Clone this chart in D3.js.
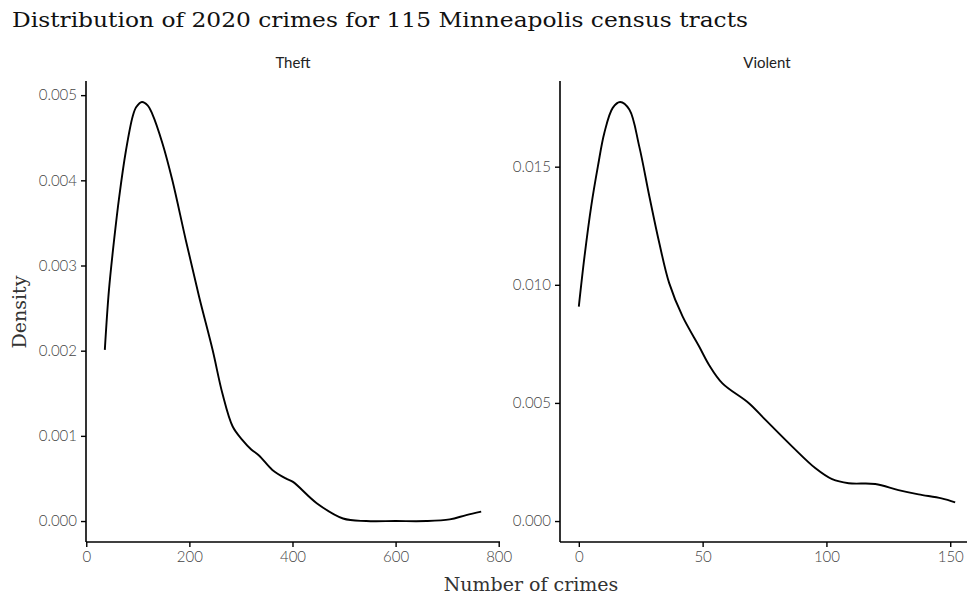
<!DOCTYPE html>
<html>
<head>
<meta charset="utf-8">
<script src="https://cdn.jsdelivr.net/npm/d3@7"></script>
<style>
  html, body { margin: 0; padding: 0; background: #fff; }
  svg { display: block; }
  .tick text { font-family: Lato, "Open Sans", sans-serif; font-weight: 300; fill: #444; font-size: 15px; }
  .strip { font-family: Lato, "Open Sans", sans-serif; font-weight: 400; fill: #222; font-size: 15px; }
  .title { font-family: "DejaVu Serif", serif; fill: #111; }
  .axis-title { font-family: "DejaVu Serif", serif; fill: #333; }
</style>
</head>
<body>
<svg id="chart" width="967" height="596"></svg>
<script>
// Kernel density estimates of 2020 crime counts per census tract
const panels = ["Theft", "Violent"];

const theftX = [36, 44, 54, 64, 77, 90, 97, 108, 119, 128, 148, 167, 193, 219, 245, 264, 284, 303, 320, 335, 361, 387, 401, 447, 498, 543, 600, 660, 705, 737, 766];
const theftD = [0.00201, 0.00271, 0.0033, 0.00381, 0.00435, 0.00475, 0.00486, 0.00492, 0.00488, 0.00478, 0.00443, 0.0040, 0.0033, 0.00263, 0.00201, 0.0015, 0.00111, 0.00095, 0.00084, 0.00077, 0.0006, 0.0005, 0.00046, 0.00021, 0.00003, 0.0, 0.0, 0.0, 0.00002, 0.00007, 0.00011];

const violentX = [0, 2.3, 5, 7.7, 10.3, 13.7, 16.7, 20.4, 24.4, 28.5, 32.5, 36.5, 41.9, 48.6, 52.6, 58, 68.7, 75.4, 86.2, 95.6, 102.3, 109, 119.7, 129.1, 137.2, 146.5, 152];
const violentD = [0.00908, 0.0112, 0.01332, 0.01501, 0.01643, 0.01749, 0.01774, 0.01742, 0.01586, 0.01374, 0.01177, 0.01007, 0.00866, 0.00739, 0.00661, 0.00583, 0.00499, 0.00428, 0.00315, 0.00223, 0.00177, 0.0016, 0.00157, 0.00131, 0.00113, 0.00096, 0.00079];

const theftXTicks = [0, 200, 400, 600, 800];
const theftYTicks = [0, 0.001, 0.002, 0.003, 0.004, 0.005];
const violentXTicks = [0, 50, 100, 150];
const violentYTicks = [0, 0.005, 0.010, 0.015];

const titleText = "Distribution of 2020 crimes for 115 Minneapolis census tracts";
const xTitle = "Number of crimes";
const yTitle = "Density";

const svg = d3.select("#chart");

// ggplot-style 5% expansion on each side of the data range
function expand(lo, hi) {
  const pad = (hi - lo) * 0.05;
  return [lo - pad, hi + pad];
}

const panelTop = 81, panelBottom = 542;
const layouts = [
  { name: panels[0], xs: theftX, ys: theftD, xTicks: theftXTicks, yTicks: theftYTicks, left: 86, right: 500 },
  { name: panels[1], xs: violentX, ys: violentD, xTicks: violentXTicks, yTicks: violentYTicks, left: 560, right: 974 }
];

layouts.forEach(p => {
  const x = d3.scaleLinear().domain(expand(d3.min(p.xs), d3.max(p.xs))).range([p.left, p.right]);
  const y = d3.scaleLinear().domain(expand(0, d3.max(p.ys))).range([panelBottom, panelTop]);

  const g = svg.append("g");

  // x axis
  const xa = g.append("g")
    .attr("transform", `translate(0,${panelBottom})`)
    .call(d3.axisBottom(x).tickValues(p.xTicks).tickSize(5).tickPadding(4).tickFormat(d3.format("d")).tickSizeOuter(0));
  xa.select(".domain").attr("stroke", "#000").attr("stroke-width", 1.6)
    .attr("d", `M${p.left},0H${p.right}`);
  xa.selectAll(".tick line").attr("stroke", "#000").attr("stroke-width", 1.4);

  // y axis
  const ya = g.append("g")
    .attr("transform", `translate(${p.left},0)`)
    .call(d3.axisLeft(y).tickValues(p.yTicks).tickSize(5).tickPadding(4).tickFormat(d3.format(".3f")).tickSizeOuter(0));
  ya.select(".domain").attr("stroke", "#000").attr("stroke-width", 1.6)
    .attr("d", `M0,${panelTop}V${panelBottom}`);
  ya.selectAll(".tick line").attr("stroke", "#000").attr("stroke-width", 1.4);

  // facet label
  g.append("text").attr("class", "strip")
    .attr("x", (p.left + p.right) / 2).attr("y", 68)
    .attr("text-anchor", "middle").text(p.name);

  // density curve
  const pts = p.xs.map((v, i) => [v, p.ys[i]]);
  g.append("path")
    .datum(pts)
    .attr("fill", "none")
    .attr("stroke", "#000")
    .attr("stroke-width", 1.9)
    .attr("stroke-linejoin", "round")
    .attr("d", d3.line().x(d => x(d[0])).y(d => y(d[1])).curve(d3.curveCatmullRom.alpha(0.5)));
});

// titles
svg.append("text").attr("class", "title")
  .attr("x", 12).attr("y", 27)
  .attr("font-size", 21)
  .attr("textLength", 736).attr("lengthAdjust", "spacingAndGlyphs")
  .text(titleText);

svg.append("text").attr("class", "axis-title")
  .attr("x", 531).attr("y", 591)
  .attr("font-size", 19)
  .attr("text-anchor", "middle")
  .text(xTitle);

svg.append("text").attr("class", "axis-title")
  .attr("transform", "translate(26,312) rotate(-90)")
  .attr("font-size", 19)
  .attr("text-anchor", "middle")
  .text(yTitle);
</script>
</body>
</html>
